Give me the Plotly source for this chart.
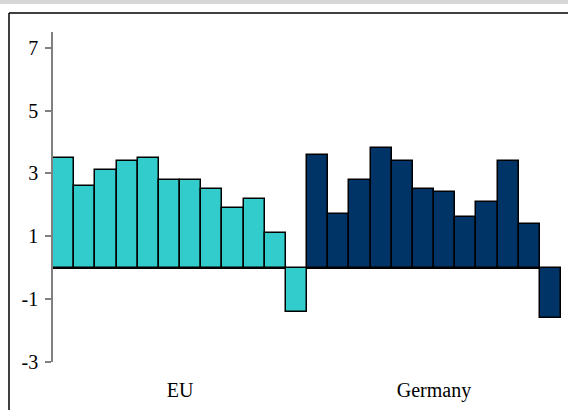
import plotly.graph_objects as go

# Values (%), 12 bars per group
groups = ["EU", "Germany"]
eu_values = [3.5, 2.6, 3.1, 3.4, 3.5, 2.8, 2.8, 2.5, 1.9, 2.2, 1.1, -1.4]
germany_values = [3.6, 1.7, 2.8, 3.8, 3.4, 2.5, 2.4, 1.6, 2.1, 3.4, 1.4, -1.6]
y_ticks = [-3, -1, 1, 3, 5, 7]
y_tick_text = ["-3", "-1", "1", "3", "5", "7"]

n_eu = len(eu_values)
n_de = len(germany_values)
eu_x = list(range(n_eu))
de_x = list(range(n_eu, n_eu + n_de))
group_centres = [(n_eu - 1) / 2, n_eu + (n_de - 1) / 2]

fig = go.Figure()

fig.add_trace(go.Bar(
    x=eu_x, y=eu_values, width=1, name="EU",
    marker=dict(color="#33CCCC", line=dict(color="#000000", width=1.5)),
))
fig.add_trace(go.Bar(
    x=de_x, y=germany_values, width=1, name="Germany",
    marker=dict(color="#003366", line=dict(color="#000000", width=1.5)),
))

# plot area: x 53..561, y 32..362 in a 568x410 page
L, R, T, B = 53, 7, 32, 48
W, H = 568, 410
pw, ph = W - L - R, H - T - B

def px_x(x):
    return (x - L) / pw

def px_y(y):
    return (H - B - y) / ph

fig.update_layout(
    width=W, height=H,
    margin=dict(l=L, r=R, t=T, b=B),
    paper_bgcolor="white",
    plot_bgcolor="white",
    barmode="overlay",
    bargap=0,
    showlegend=False,
    font=dict(family="Liberation Serif, Times New Roman, serif", size=20, color="#000000"),
    xaxis=dict(
        range=[-0.5, n_eu + n_de - 0.5],
        tickvals=group_centres,
        ticktext=groups,
        showline=False, showgrid=False, zeroline=False,
        ticks="", ticklabelstandoff=14,
        tickfont=dict(size=20),
    ),
    yaxis=dict(
        range=[-3, 7.5],
        tickvals=y_ticks,
        ticktext=y_tick_text,
        showgrid=False,
        showline=True, linecolor="#808080", linewidth=1.5,
        ticks="outside", ticklen=6, tickcolor="#808080", tickwidth=1.5,
        ticklabelstandoff=3,
        zeroline=True, zerolinecolor="#000000", zerolinewidth=1.5,
        tickfont=dict(size=20),
    ),
    shapes=[
        # grey strip at the very top
        dict(type="rect", xref="paper", yref="paper",
             x0=px_x(-50), x1=px_x(W + 200), y0=px_y(4), y1=px_y(-50),
             fillcolor="#d6d6d6", line=dict(width=0)),
        # outer frame: only its left and top edges fall inside the page
        dict(type="line", xref="paper", yref="paper",
             x0=px_x(9), x1=px_x(9), y0=px_y(H + 50), y1=px_y(13),
             line=dict(color="#000000", width=1.5)),
        dict(type="line", xref="paper", yref="paper",
             x0=px_x(9), x1=px_x(W + 200), y0=px_y(13), y1=px_y(13),
             line=dict(color="#000000", width=1.5)),
    ],
)

# pin the chart to the page corner so nothing overflows into scrollbars
page_fix = (
    "document.documentElement.style.overflow='hidden';"
    "document.body.style.margin='0';"
    "document.body.style.overflow='hidden';"
    "var d=document.querySelector('.plotly-graph-div');"
    "d.style.position='fixed';d.style.left='0';d.style.top='0';"
)
fig.write_html("out.html", config={"displayModeBar": False}, post_script=page_fix)
